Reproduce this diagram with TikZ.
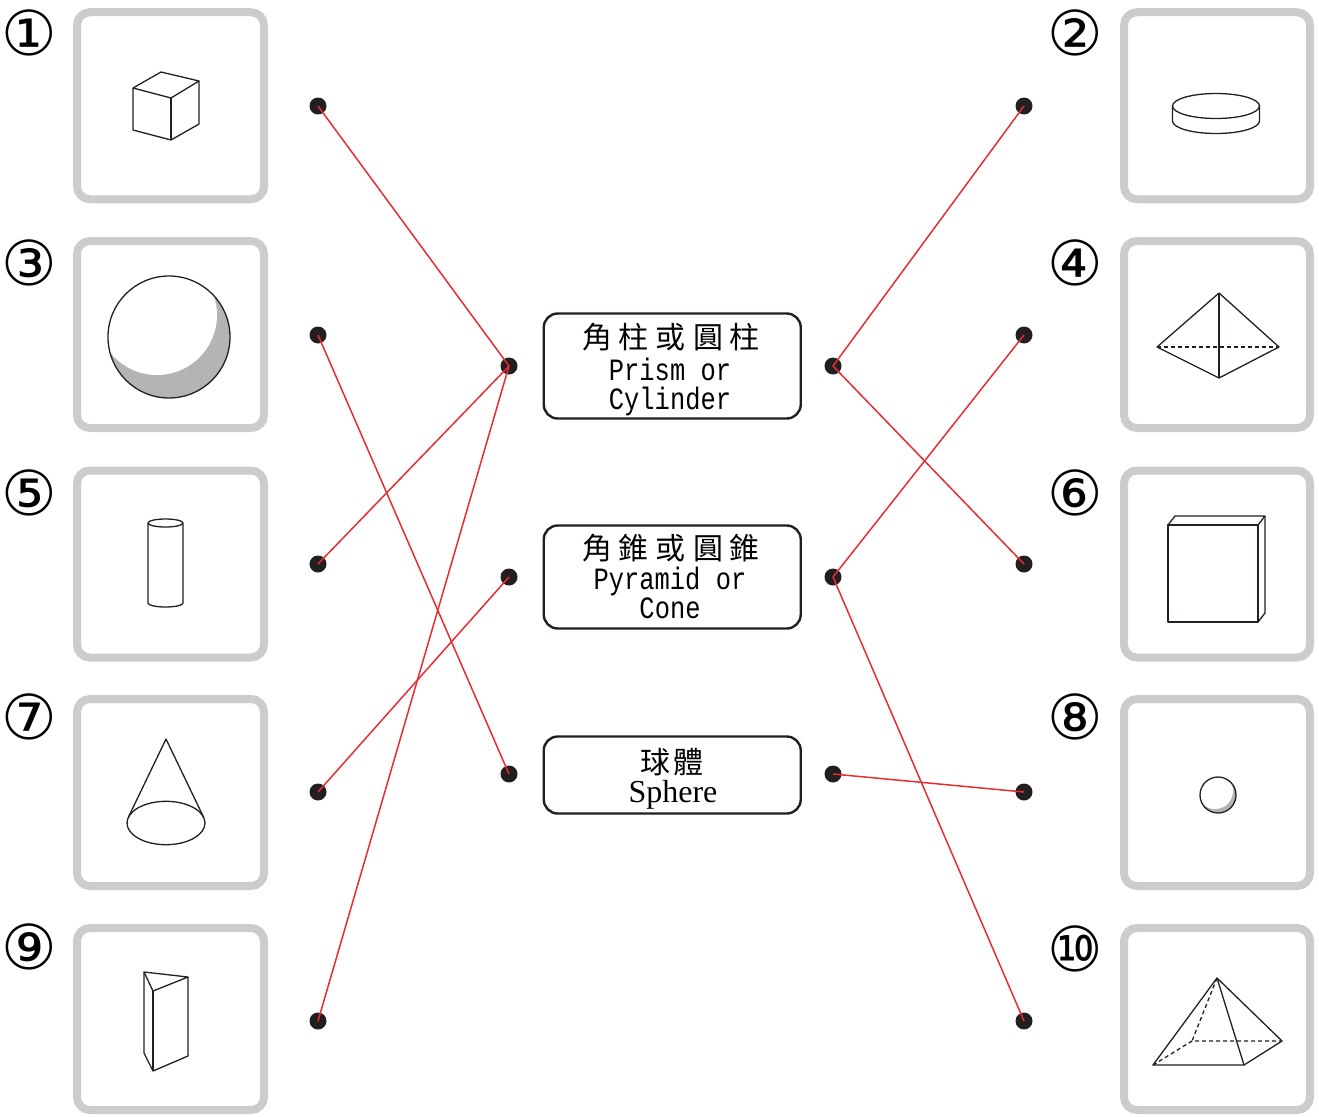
\documentclass[tikz,border=0pt]{standalone}
\usepackage{fontspec}
\newfontfamily\cjk{Noto Sans CJK TC}
\newfontfamily\cmono[FakeStretch=0.82]{Liberation Mono}
\newfontfamily\lserif{Liberation Serif}
\newfontfamily\numfont{DejaVu Sans}
\definecolor{panelgray}{RGB}{204,204,204}
\definecolor{ink}{RGB}{35,31,32}
\definecolor{linkred}{RGB}{230,45,50}
\definecolor{shadegray}{RGB}{180,180,180}
\newcommand{\cjksp}{\hspace{7pt}}
\begin{document}
\begin{tikzpicture}[x=1pt,y=-1pt,
 panel/.style={draw=panelgray,line width=8pt,rounded corners=13pt,minimum width=187pt,minimum height=187pt,inner sep=0pt},
 catbox/.style={draw=ink,line width=2.4pt,rounded corners=14pt,minimum width=257pt,inner sep=0pt},
 dot/.style={circle,fill=ink,inner sep=0pt,minimum size=17pt},
 conn/.style={draw=linkred,line width=1.5pt},
 edge3d/.style={draw=ink,line width=1.3pt,line join=round},
 hidden3d/.style={draw=ink,line width=1.3pt,dash pattern=on 4pt off 3pt},
 num/.style={font=\numfont\fontsize{62}{62}\selectfont,inner sep=0pt},
 cjkline/.style={font=\cjk\fontsize{30}{30}\selectfont,inner sep=0pt},
 latline/.style={font=\cmono\fontsize{31}{29}\selectfont,inner sep=0pt,anchor=base,align=center},
 serifline/.style={font=\lserif\fontsize{32}{32}\selectfont,inner sep=0pt,anchor=base},
]
\useasboundingbox (0,0) rectangle (1319,1116);

% panels
\node[panel] (p1) at (170.5,105.75) {};
\node[panel] (p3) at (170.5,334.5) {};
\node[panel] (p5) at (170.5,564) {};
\node[panel] (p7) at (170.5,792.5) {};
\node[panel,minimum height=182pt] (p9) at (170.5,1019) {};
\node[panel,minimum width=186pt] (p2) at (1217,105.75) {};
\node[panel,minimum width=186pt] (p4) at (1217,334.5) {};
\node[panel,minimum width=186pt] (p6) at (1217,564) {};
\node[panel,minimum width=186pt] (p8) at (1217,792.5) {};
\node[panel,minimum width=186pt,minimum height=182pt] (p10) at (1217,1019) {};

% numbers
\node[num] (n1) at (29,33) {①};
\node[num] (n3) at (29,263) {③};
\node[num] (n5) at (29,493) {⑤};
\node[num] (n7) at (29,717) {⑦};
\node[num] (n9) at (29,947) {⑨};
\node[num] (n2) at (1075,33) {②};
\node[num] (n4) at (1075,263) {④};
\node[num] (n6) at (1075,493) {⑥};
\node[num] (n8) at (1075,717) {⑧};
\node[num] (n10) at (1075,949) {⑩};

% shape 1: cube
\draw[edge3d] (133,88) -- (161,72) -- (199,81) -- (171,98) -- cycle;
\draw[edge3d] (133,88) -- (133,130) -- (171,140) -- (199,124) -- (199,81);
\draw[edge3d] (171,98) -- (171,140);

% shape 3: sphere
\begin{scope}
\clip (169,337) circle (61pt);
\fill[shadegray] (169,337) circle (61pt);
\fill[white] (157,315) circle (60pt);
\end{scope}
\draw[edge3d] (169,337) circle (61pt);

% shape 5: cylinder
\draw[edge3d] (165.5,523) ellipse [x radius=17.5pt,y radius=4pt];
\draw[edge3d] (148,523) -- (148,603) arc[start angle=180,end angle=360,x radius=17.5pt,y radius=4pt] -- (183,523);

% shape 7: cone
\draw[edge3d] (166,823) ellipse [x radius=39pt,y radius=21.7pt];
\draw[edge3d] (128.3,817.4) -- (166,739) -- (203.7,817.4);

% shape 9: triangular prism
\draw[edge3d] (144,972) -- (153,991) -- (188,977) -- cycle;
\draw[edge3d] (144,972) -- (144,1053) -- (153,1071) -- (188,1056) -- (188,977);
\draw[edge3d] (153,991) -- (153,1071);

% shape 2: disc
\draw[edge3d] (1216,106) ellipse [x radius=43.5pt,y radius=12.5pt];
\draw[edge3d] (1172.5,106) -- (1172.5,121) arc[start angle=180,end angle=360,x radius=43.5pt,y radius=12.5pt] -- (1259.5,106);

% shape 4: bipyramid
\draw[edge3d] (1219,293) -- (1157,347) -- (1219,378) -- (1279,347) -- cycle;
\draw[edge3d] (1219,293) -- (1219,378);
\draw[hidden3d] (1157,347) -- (1279,347);

% shape 6: thin box
\draw[edge3d] (1168,525) rectangle (1258,622);
\draw[edge3d] (1168,525) -- (1175,516) -- (1265,516) -- (1258,525);
\draw[edge3d] (1265,516) -- (1265,613) -- (1258,622);

% shape 8: small sphere
\begin{scope}
\clip (1218,795) circle (18pt);
\fill[shadegray] (1218,795) circle (18pt);
\fill[white] (1215,791) circle (18pt);
\end{scope}
\draw[edge3d] (1218,795) circle (18pt);

% shape 10: pyramid
\draw[hidden3d] (1217,978) -- (1192,1041);
\draw[hidden3d] (1153,1065) -- (1192,1041) -- (1282,1041);
\draw[edge3d] (1153,1065) -- (1217,978) -- (1244,1065) -- cycle;
\draw[edge3d] (1217,978) -- (1282,1041) -- (1244,1065);

% category boxes
\node[catbox,minimum height=105pt] (ca) at (672.25,366) {};
\node[catbox,minimum height=103pt] (cb) at (672.25,577) {};
\node[catbox,minimum height=77pt] (cc) at (672.25,775) {};

\node[cjkline] (ta1) at (671,337) {角\cjksp 柱\cjksp 或\cjksp 圓\cjksp 柱};
\node[latline] (ta2) at (670,409) {Prism or\\Cylinder};
\node[cjkline] (tb1) at (671,548) {角\cjksp 錐\cjksp 或\cjksp 圓\cjksp 錐};
\node[latline] (tb2) at (670,618) {Pyramid or\\Cone};
\node[cjkline] (tc1) at (672,762) {球\hspace{4pt}體};
\node[serifline] (tc2) at (673,802) {Sphere};

% dots
\node[dot] (l1) at (318,106) {};
\node[dot] (l3) at (318,335) {};
\node[dot] (l5) at (318,564) {};
\node[dot] (l7) at (318,792) {};
\node[dot] (l9) at (318,1021) {};
\node[dot] (r2) at (1024,106) {};
\node[dot] (r4) at (1024,335) {};
\node[dot] (r6) at (1024,564) {};
\node[dot] (r8) at (1024,792) {};
\node[dot] (r10) at (1024,1021) {};
\node[dot] (cal) at (509,366) {};
\node[dot] (car) at (833,366) {};
\node[dot] (cbl) at (509,577) {};
\node[dot] (cbr) at (833,577) {};
\node[dot] (ccl) at (509,774) {};
\node[dot] (ccr) at (833,774) {};

% connectors
\draw[conn] (l1.center) -- (cal.center);
\draw[conn] (l3.center) -- (ccl.center);
\draw[conn] (l5.center) -- (cal.center);
\draw[conn] (l7.center) -- (cbl.center);
\draw[conn] (l9.center) -- (cal.center);
\draw[conn] (r2.center) -- (car.center);
\draw[conn] (r4.center) -- (cbr.center);
\draw[conn] (r6.center) -- (car.center);
\draw[conn] (r8.center) -- (ccr.center);
\draw[conn] (r10.center) -- (cbr.center);
\end{tikzpicture}
\end{document}
